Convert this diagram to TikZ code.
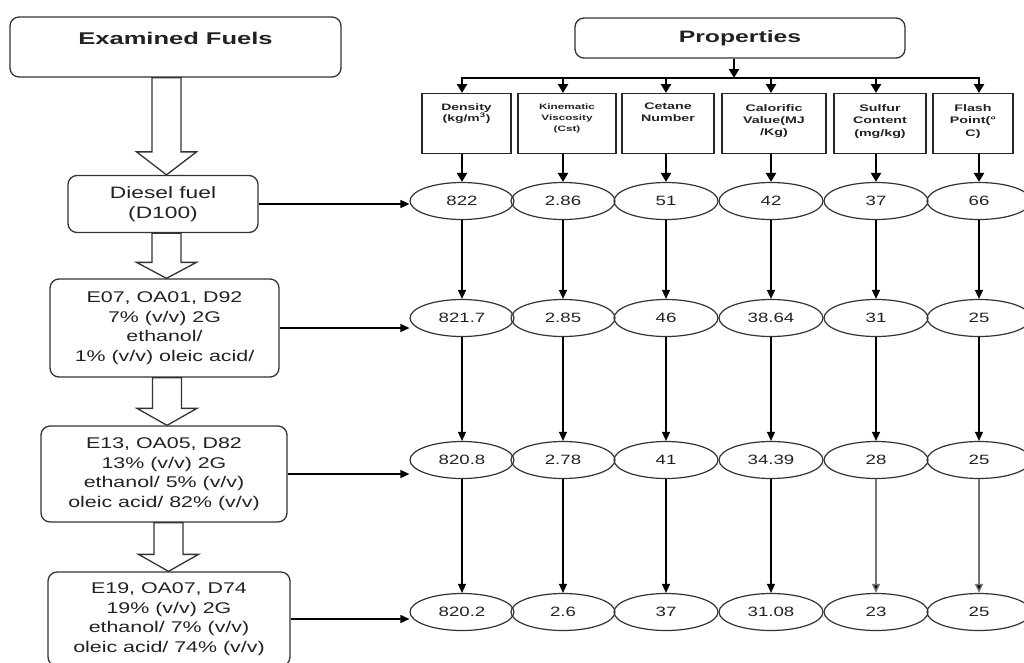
\documentclass[tikz,border=0pt]{standalone}
\usepackage{fontspec}
\usetikzlibrary{calc,arrows.meta,shapes.geometric}
\newfontfamily\rfont[FakeStretch=1.38]{Liberation Sans}
\newfontfamily\wfont[FakeStretch=1.5]{Liberation Sans}
\definecolor{bd}{HTML}{333333}
\definecolor{tx}{HTML}{222222}
\newcommand\ptext[5]{\parbox[c][60pt][t]{#1pt}{\centering\vspace*{#2pt}\wfont\bfseries\fontsize{#3}{#4}\selectfont\color{tx}#5\par}}
\newcommand\hollowarrow[4]{%
  \draw[hollow] let \p1=(#1.south), \p2=(#2.north) in
    (#3pt-14.5pt,\y1) -- (#3pt-14.5pt,\y2+#4pt) -- (#3pt-30pt,\y2+#4pt) -- (#3pt,\y2)
    -- (#3pt+30pt,\y2+#4pt) -- (#3pt+14.5pt,\y2+#4pt) -- (#3pt+14.5pt,\y1) -- cycle;}
\begin{document}
\begin{tikzpicture}[x=1pt,y=-1pt,
  fuelbox/.style={draw=bd, line width=1.3pt, rounded corners=9pt, fill=white, align=center,
    text=tx, inner sep=0pt, font=\rfont\fontsize{15.5}{19.6}\selectfont},
  titlebox/.style={fuelbox, font=\wfont\bfseries\fontsize{17}{20}\selectfont},
  propbox/.style={draw=black!85, line width=1.3pt, inner sep=0pt, anchor=north},
  val/.style={draw=bd, line width=1.2pt, ellipse, minimum width=104pt, minimum height=37pt,
    inner sep=0pt, text=tx, font=\rfont\fontsize{13.5}{16}\selectfont},
  conn/.style={line width=1.4pt, -{Triangle[length=9pt,width=8pt]}},
  thickarr/.style={line width=2.3pt, -{Triangle[length=9pt,width=10pt]}},
  bus/.style={line width=2.5pt},
  hollow/.style={draw=bd, line width=1.3pt, fill=white, line join=miter}]
\useasboundingbox (0,0) rectangle (1024,662);
\clip (0,0) rectangle (1024,662);

% left column
\node[titlebox, minimum width=331pt, minimum height=60pt, text height=12.5pt, text depth=18.5pt] (ef) at (175.5,47) {Examined Fuels};
\node[fuelbox, minimum width=190pt, minimum height=57pt, font=\rfont\fontsize{16.5}{19.5}\selectfont] (diesel) at (163,204) {Diesel fuel\\(D100)};
\node[fuelbox, minimum width=229pt, minimum height=98pt] (e07) at (164.5,328) {E07, OA01, D92\\7\% (v/v) 2G\\ethanol/\\1\% (v/v) oleic acid/};
\node[fuelbox, minimum width=246pt, minimum height=96pt] (e13) at (164,474) {E13, OA05, D82\\13\% (v/v) 2G\\ethanol/ 5\% (v/v)\\oleic acid/ 82\% (v/v)};
\node[fuelbox, minimum width=242pt, minimum height=94pt] (e19) at (169,619) {E19, OA07, D74\\19\% (v/v) 2G\\ethanol/ 7\% (v/v)\\oleic acid/ 74\% (v/v)};

\hollowarrow{ef}{diesel}{166.5}{23}
\hollowarrow{diesel}{e07}{166.5}{16}
\hollowarrow{e07}{e13}{167}{17}
\hollowarrow{e13}{e19}{168.5}{17}

% properties header
\node[titlebox, minimum width=330pt, minimum height=40pt, font=\wfont\bfseries\fontsize{16.5}{20}\selectfont] (props) at (740,38) {Properties};

% property boxes
\node[propbox] (p1) at (466.5,93) {\ptext{89}{10}{9.3}{9.8}{Density\\(kg/m\textsuperscript{3})}};
\node[propbox] (p2) at (567,93) {\ptext{98}{10.5}{7.8}{10.8}{Kinematic\\Viscosity\\(Cst)}};
\node[propbox] (p3) at (668,93) {\ptext{92}{9.5}{9.5}{11.8}{Cetane\\Number}};
\node[propbox] (p4) at (774,93) {\ptext{104}{10.5}{9.5}{12.3}{Calorific\\Value(MJ\\/Kg)}};
\node[propbox] (p5) at (880,93) {\ptext{92}{11}{9.5}{12.3}{Sulfur\\Content\\(mg/kg)}};
\node[propbox] (p6) at (973,93) {\ptext{80}{11}{9.5}{12.3}{Flash\\Point(\textdegree\\C)}};

% value ellipses
\foreach \r/\yy/\va/\vb/\vc/\vd/\ve/\vf in
  {1/201/822/2.86/51/42/37/66,
   2/318/821.7/2.85/46/38.64/31/25,
   3/460/820.8/2.78/41/34.39/28/25,
   4/612/820.2/2.6/37/31.08/23/25}{
  \node[val] (v\r1) at (462,\yy) {\va};
  \node[val] (v\r2) at (563,\yy) {\vb};
  \node[val] (v\r3) at (666,\yy) {\vc};
  \node[val] (v\r4) at (771,\yy) {\vd};
  \node[val] (v\r5) at (876,\yy) {\ve};
  \node[val] (v\r6) at (979,\yy) {\vf};
}

% bus
\coordinate (b0) at (734,78);
\draw[bus] ([xshift=-1.15pt]v11 |- b0) -- ([xshift=1.15pt]v16 |- b0);
\draw[thickarr] (props.south -| b0) -- (b0);
\foreach \c in {1,...,6}{
  \draw[thickarr] (v1\c |- b0) -- (v1\c |- p\c.north);
  \draw[thickarr] (v1\c |- p\c.south) -- (v1\c.north);
}

% vertical connectors between rows
\foreach \c in {1,...,6}{
  \draw[conn] (v1\c.south) -- (v2\c.north);
  \draw[conn] (v2\c.south) -- (v3\c.north);
}
\foreach \c in {1,...,4}{
  \draw[conn] (v3\c.south) -- (v4\c.north);
}
\draw[conn, draw=black!55, -{Triangle[length=9pt,width=8pt,fill=black]}] (v35.south) -- (v45.north);
\draw[conn, draw=black!55, -{Triangle[length=9pt,width=8pt,fill=black]}] (v36.south) -- (v46.north);

% horizontal arrows from fuels
\draw[conn] (diesel.east) -- (diesel.east -| v11.west);
\draw[conn] (e07.east) -- (e07.east -| v21.west);
\draw[conn] (e13.east) -- (e13.east -| v31.west);
\draw[conn] (e19.east) -- (e19.east -| v41.west);
\end{tikzpicture}
\end{document}
